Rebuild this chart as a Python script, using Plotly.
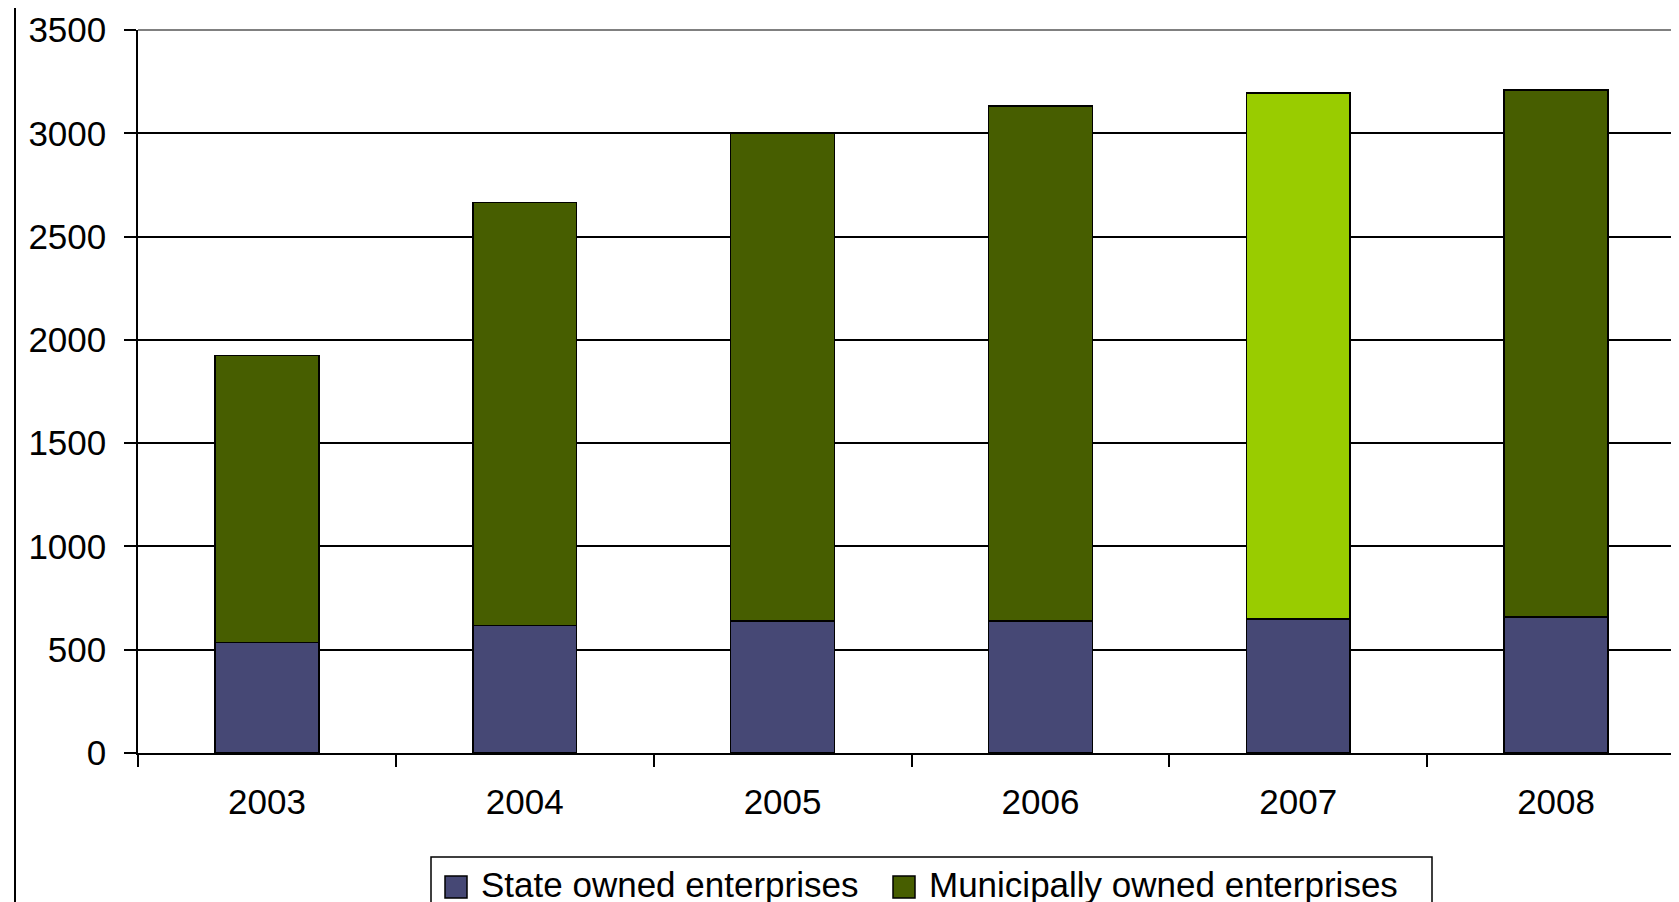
import plotly.graph_objects as go

years = ["2003", "2004", "2005", "2006", "2007", "2008"]
state_owned = [534, 617, 638, 638, 648, 658]
municipal_owned = [1390, 2048, 2364, 2494, 2546, 2552]
municipal_colors = ["#475E00", "#475E00", "#475E00", "#475E00", "#99CC00", "#475E00"]
y_ticks = [0, 500, 1000, 1500, 2000, 2500, 3000, 3500]
legend_names = ["State owned enterprises", "Municipally owned enterprises"]
legend_colors = ["#464875", "#475E00"]

FONT = "Liberation Sans, Arial, sans-serif"
W, H = 1679, 902
ML, MR, MT, MB = 130, 2, 22, 157
PW, PH = W - ML - MR, H - MT - MB


def px(xp):
    return (xp - ML) / PW


def py(yp):
    return (H - MB - yp) / PH


fig = go.Figure()
fig.add_trace(go.Bar(
    x=years, y=state_owned, name=legend_names[0],
    marker=dict(color=legend_colors[0], line=dict(color="black", width=1.5)),
))
fig.add_trace(go.Bar(
    x=years, y=municipal_owned, name=legend_names[1],
    marker=dict(color=municipal_colors, line=dict(color="black", width=1.5)),
))

shapes = [
    dict(type="line", xref="paper", yref="paper", x0=0, x1=1, y0=1, y1=1,
         line=dict(color="#808080", width=2)),
    dict(type="line", xref="paper", yref="paper", x0=1, x1=1, y0=0, y1=1,
         line=dict(color="#808080", width=2)),
    dict(type="line", xref="paper", yref="paper", x0=px(7), x1=px(7), y0=py(930), y1=py(-10),
         line=dict(color="black", width=2)),
    # legend box
    dict(type="rect", xref="paper", yref="paper", x0=px(423), x1=px(1424), y0=py(930), y1=py(849),
         line=dict(color="black", width=1.5), fillcolor="white"),
]
annotations = []
legend_items = [(437, 473), (885, 921)]
for (mx, tx), name, col in zip(legend_items, legend_names, legend_colors):
    shapes.append(dict(type="rect", xref="paper", yref="paper",
                       x0=px(mx), x1=px(mx + 22), y0=py(890), y1=py(868),
                       line=dict(color="black", width=1.5), fillcolor=col))
    annotations.append(dict(text=name, xref="paper", yref="paper", x=px(tx - 2), y=py(876),
                            xanchor="left", yanchor="middle", showarrow=False,
                            font=dict(family=FONT, size=35, color="black")))

fig.update_layout(
    width=W, height=H,
    barmode="stack", bargap=0.597,
    paper_bgcolor="white", plot_bgcolor="white",
    margin=dict(l=ML, r=MR, t=MT, b=MB, autoexpand=False),
    font=dict(family=FONT, size=35, color="black"),
    showlegend=False,
    xaxis=dict(
        type="category", showline=True, linecolor="black", linewidth=1.5,
        ticks="outside", tickson="boundaries", ticklen=12, tickwidth=1.5, tickcolor="black",
        showgrid=False, ticklabelstandoff=17,
        tickfont=dict(family=FONT, size=35, color="black"),
    ),
    yaxis=dict(
        range=[0, 3500], tickvals=y_ticks, showline=True, linecolor="black", linewidth=1.5,
        ticks="outside", ticklen=12, tickwidth=1.5, tickcolor="black",
        showgrid=True, gridcolor="black", gridwidth=1.5, zeroline=False,
        ticklabelstandoff=11,
        tickfont=dict(family=FONT, size=35, color="black"),
    ),
    shapes=shapes,
    annotations=annotations,
)

fig.write_html("out.html")
